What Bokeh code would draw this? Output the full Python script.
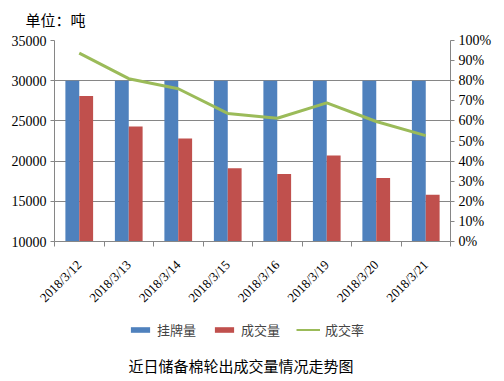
import numpy as np
from bokeh.plotting import figure
from bokeh.layouts import column
from bokeh.models import (ColumnDataSource, Range1d, LinearAxis, FixedTicker,
                          SingleIntervalTicker, NumeralTickFormatter, Legend,
                          LegendItem, Label)
from bokeh.transform import dodge
from bokeh.embed import file_html
from bokeh.resources import INLINE

dates = ["2018/3/12", "2018/3/13", "2018/3/14", "2018/3/15",
         "2018/3/16", "2018/3/19", "2018/3/20", "2018/3/21"]
listed = [30000, 30000, 30000, 30000, 30000, 30000, 30000, 30000]
traded = [28100, 24300, 22800, 19100, 18400, 20700, 17900, 15800]
rate = [0.937, 0.81, 0.76, 0.637, 0.613, 0.69, 0.597, 0.527]
series_names = ["挂牌量", "成交量", "成交率"]
unit_text = "单位：吨"
caption_text = "近日储备棉轮出成交量情况走势图"

BLUE = "#4F81BD"
RED = "#C0504D"
GREEN = "#9BBB59"
AXIS = "#868686"
SERIF = "Liberation Serif"
CJK = "Noto Sans CJK SC"

xs = np.arange(len(dates)) + 0.5
src = ColumnDataSource(dict(x=xs, listed=listed, traded=traded, rate=rate))

p = figure(width=500, height=313, output_backend="svg", toolbar_location=None,
           x_range=Range1d(0, len(dates)), y_range=Range1d(10000, 35000),
           min_border_left=54, min_border_right=50, min_border_top=40,
           min_border_bottom=70)
p.outline_line_color = None
p.background_fill_color = "white"
p.extra_y_ranges = {"rate": Range1d(0, 1)}

p.vbar(x=dodge("x", -0.14), top="listed", bottom=10000, width=0.28,
       source=src, fill_color=BLUE, line_color=None)
p.vbar(x=dodge("x", 0.14), top="traded", bottom=10000, width=0.28,
       source=src, fill_color=RED, line_color=None)
p.line(x="x", y="rate", source=src, y_range_name="rate",
       line_color=GREEN, line_width=3)

# x axis: labels at centers, ticks at category boundaries
xa = p.xaxis[0]
xa.ticker = FixedTicker(ticks=list(xs), minor_ticks=list(range(len(dates) + 1)))
xa.major_label_overrides = {float(v): d for v, d in zip(xs, dates)}
xa.major_label_orientation = np.pi / 4
xa.major_tick_line_color = None
xa.minor_tick_line_color = AXIS
xa.minor_tick_out = 5
xa.minor_tick_in = 0
xa.axis_line_color = AXIS
xa.major_label_text_font = SERIF
xa.major_label_text_font_size = "13px"
xa.major_label_text_color = "black"
xa.major_label_standoff = 15

ya = p.yaxis[0]
ya.ticker = SingleIntervalTicker(interval=5000)
ya.minor_tick_line_color = None
ya.major_tick_line_color = AXIS
ya.major_tick_out = 4
ya.major_tick_in = 0
ya.axis_line_color = AXIS
ya.major_label_text_font = SERIF
ya.major_label_text_font_size = "14px"
ya.major_label_text_color = "black"
ya.major_label_standoff = 4

ra = LinearAxis(y_range_name="rate", ticker=FixedTicker(ticks=[i / 10 for i in range(11)]),
                formatter=NumeralTickFormatter(format="0%"))
ra.minor_tick_line_color = None
ra.major_tick_line_color = AXIS
ra.major_tick_out = 4
ra.major_tick_in = 0
ra.axis_line_color = AXIS
ra.major_label_text_font = SERIF
ra.major_label_text_font_size = "14px"
ra.major_label_text_color = "black"
ra.major_label_standoff = 4
p.add_layout(ra, "right")

p.xgrid.grid_line_color = None
p.ygrid.grid_line_color = AXIS
p.ygrid.grid_line_width = 1
p.ygrid.ticker = ya.ticker

# top unit title
p.title.text = unit_text
p.title.align = "left"
p.title.vertical_align = "top"
p.title.offset = -29
p.title.standoff = 17
p.title.text_font = CJK
p.title.text_font_size = "15px"
p.title.text_font_style = "normal"
p.title.text_color = "black"

# bottom strip: legend + caption
q = figure(width=500, height=65, output_backend="svg", toolbar_location=None,
           x_range=Range1d(0, 500), y_range=Range1d(0, 65),
           x_axis_location=None, y_axis_location=None,
           min_border_left=0, min_border_right=0, min_border_top=0,
           min_border_bottom=0)
q.outline_line_color = None
q.grid.visible = False
lb = q.vbar(x="x", top="listed", width=0.28, source=src, fill_color=BLUE,
            line_color=None, visible=False)
lr = q.vbar(x="x", top="traded", width=0.28, source=src, fill_color=RED,
            line_color=None, visible=False)
lg = q.line(x="x", y="rate", source=src, line_color=GREEN, line_width=2,
            visible=False)

legend = Legend(items=[LegendItem(label=series_names[0], renderers=[lb]),
                       LegendItem(label=series_names[1], renderers=[lr]),
                       LegendItem(label=series_names[2], renderers=[lg])],
                orientation="horizontal", location=(74, 39),
                glyph_width=24, glyph_height=7, label_height=14,
                label_standoff=5, spacing=16, padding=0, margin=0,
                border_line_color=None, background_fill_alpha=0,
                label_text_font=CJK, label_text_font_size="13px")
q.add_layout(legend, "center")
q.add_layout(Label(x=74, y=13, x_units="screen", y_units="screen",
                   text=caption_text, text_font=CJK, text_font_size="15px",
                   text_baseline="middle", text_color="black"))

layout = column(p, q, spacing=0)
open("out.html", "w").write(file_html(layout, INLINE))
